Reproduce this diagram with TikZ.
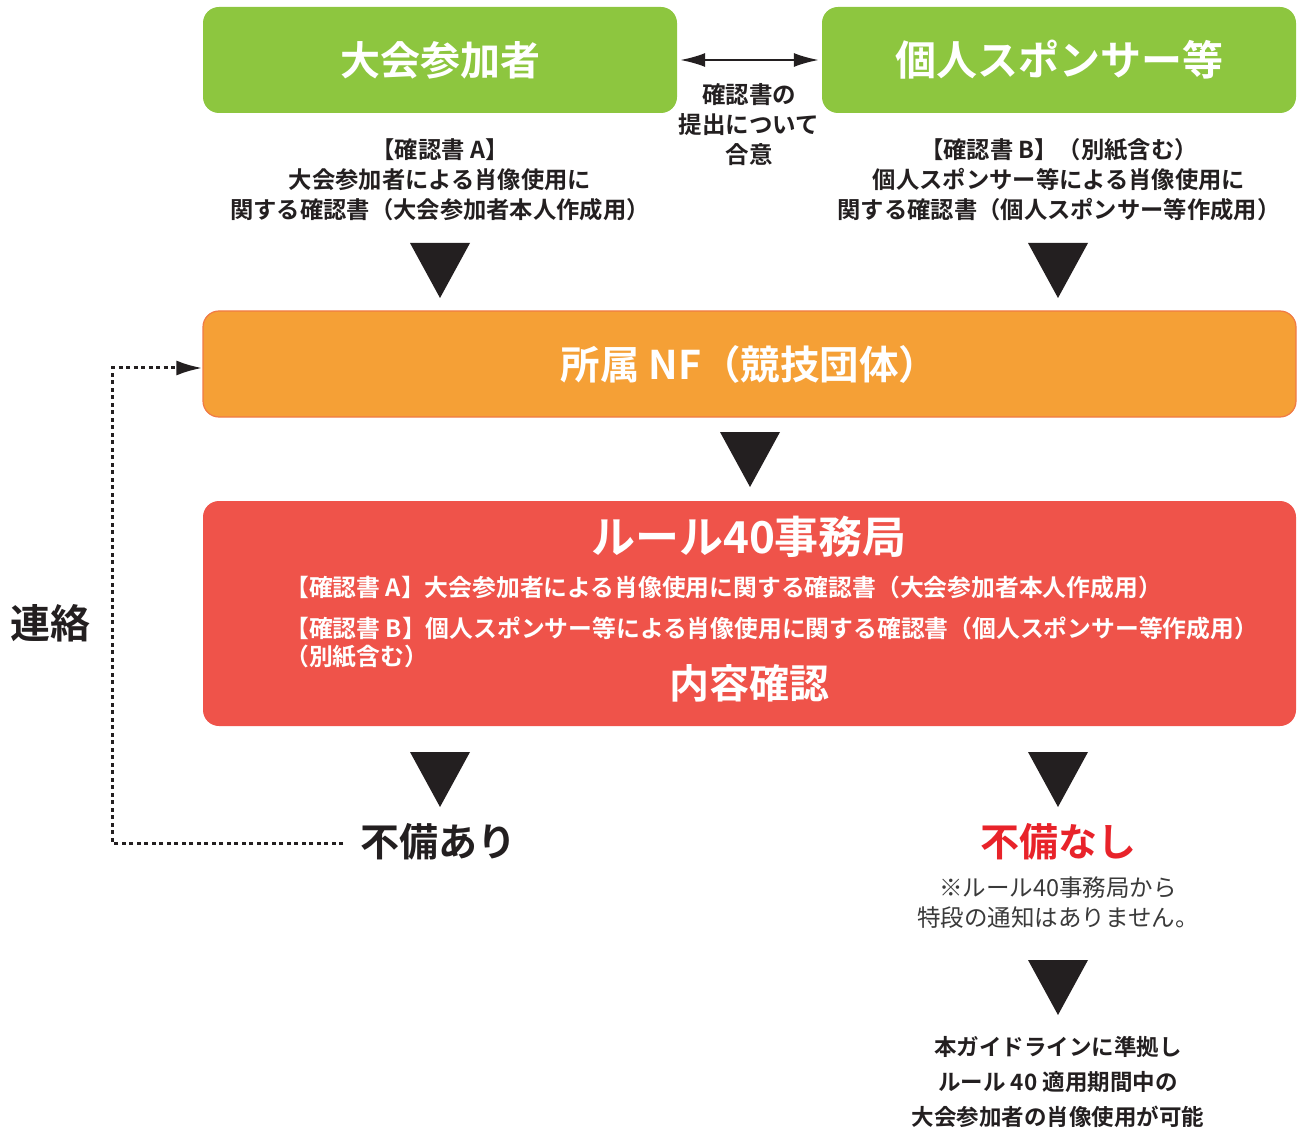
\documentclass[tikz,border=0pt]{standalone}
\usepackage{fontspec}
\setmainfont{Noto Sans CJK JP}[BoldFont=* Bold]
\usetikzlibrary{arrows.meta,calc}
\definecolor{gr}{HTML}{8DC63F}
\definecolor{orfill}{HTML}{F5A036}
\definecolor{orline}{HTML}{F07A45}
\definecolor{rd}{HTML}{EF534A}
\definecolor{ink}{HTML}{231F20}
\definecolor{alert}{HTML}{E8232A}
\definecolor{note}{HTML}{3A3A3A}
\tikzset{
  box/.style={rounded corners=16pt, inner sep=0pt, text=white, font=\bfseries},
  sub/.style={align=center, text=ink, font=\bfseries\fontsize{23.3}{30}\selectfont},
  inbox/.style={text=white, font=\bfseries\fontsize{23.8}{28}\selectfont, anchor=west, inner sep=0pt},
}
\newcommand{\downtri}[3]{\fill[ink] (#1-30,#2) -- (#1+30,#2) -- (#1,#3) -- cycle;}
\begin{document}
\begin{tikzpicture}[x=1pt,y=-1pt]
\useasboundingbox (0,0) rectangle (1298,1131);
% top boxes
\node[box, fill=gr, minimum width=474pt, minimum height=106pt, font=\bfseries\fontsize{40}{44}\selectfont] (a) at (440,60) {大会参加者};
\node[box, fill=gr, minimum width=474pt, minimum height=106pt, font=\bfseries\fontsize{41}{44}\selectfont] (b) at (1059,60) {個人スポンサー等};
\draw[ink, line width=2pt, {Latex[length=25pt,width=14pt]}-{Latex[length=25pt,width=14pt]}] ([xshift=3pt]a.east) -- ([xshift=-3pt]b.east-|b.west);
\node[sub, font=\bfseries\fontsize{23.5}{30}\selectfont] (agree) at (749,125) {確認書の\\提出について\\合意};
\node[sub] (sa) at (440,180) {【確認書 A】\\大会参加者による肖像使用に\\関する確認書（大会参加者本人作成用）};
\node[sub] (sb) at (1059,180) {【確認書 B】（別紙含む）\\個人スポンサー等による肖像使用に\\関する確認書（個人スポンサー等作成用）};
\downtri{440}{243}{298}
\downtri{1058}{243}{298}
% NF box
\node[box, fill=orfill, draw=orline, line width=1.2pt, minimum width=1093pt, minimum height=106pt, font=\bfseries\fontsize{39.5}{42}\selectfont] (nf) at (749.5,364) {所属 NF（競技団体）};
\downtri{750}{432}{487}
% Rule 40 box
\node[box, fill=rd, minimum width=1093pt, minimum height=225pt] (r40) at (749.5,613.5) {};
\node[text=white, font=\bfseries\fontsize{44}{48}\selectfont] (r40t) at (749,537) {ルール40事務局};
\node[inbox] (la) at (285,587) {【確認書 A】大会参加者による肖像使用に関する確認書（大会参加者本人作成用）};
\node[inbox] (lb) at (285,628) {【確認書 B】個人スポンサー等による肖像使用に関する確認書（個人スポンサー等作成用）};
\node[inbox] (lc) at (285,657) {（別紙含む）};
\node[text=white, font=\bfseries\fontsize{40}{44}\selectfont] (chk) at (749,683) {内容確認};
\downtri{440}{752}{807}
\downtri{1058}{752}{807}
% results
\node[text=ink, font=\bfseries\fontsize{39}{42}\selectfont] (ng) at (438,842) {不備あり};
\node[text=alert, font=\bfseries\fontsize{39}{42}\selectfont] (ok) at (1058,842) {不備なし};
\node[align=center, text=note, font=\fontsize{23.5}{30}\selectfont] (nt) at (1058,903) {※ルール40事務局から\\特段の通知はありません。};
\downtri{1058}{960}{1015}
\node[align=center, text=ink, font=\bfseries\fontsize{22.5}{35}\selectfont] (fin) at (1058,1082) {本ガイドラインに準拠し\\ルール 40 適用期間中の\\大会参加者の肖像使用が可能};
% contact loop
\coordinate (c1) at (343,843);
\coordinate (c2) at (112,843);
\coordinate (c3) at (112,368);
\draw[ink, line width=3pt, dash pattern=on 4pt off 3.5pt, -{Latex[length=26pt,width=15pt]}] (c1) -- (c2) -- (c3) -- (c3-|nf.west);
\node[text=ink, font=\bfseries\fontsize{40}{44}\selectfont] (ren) at (50,623) {連絡};
\end{tikzpicture}
\end{document}
